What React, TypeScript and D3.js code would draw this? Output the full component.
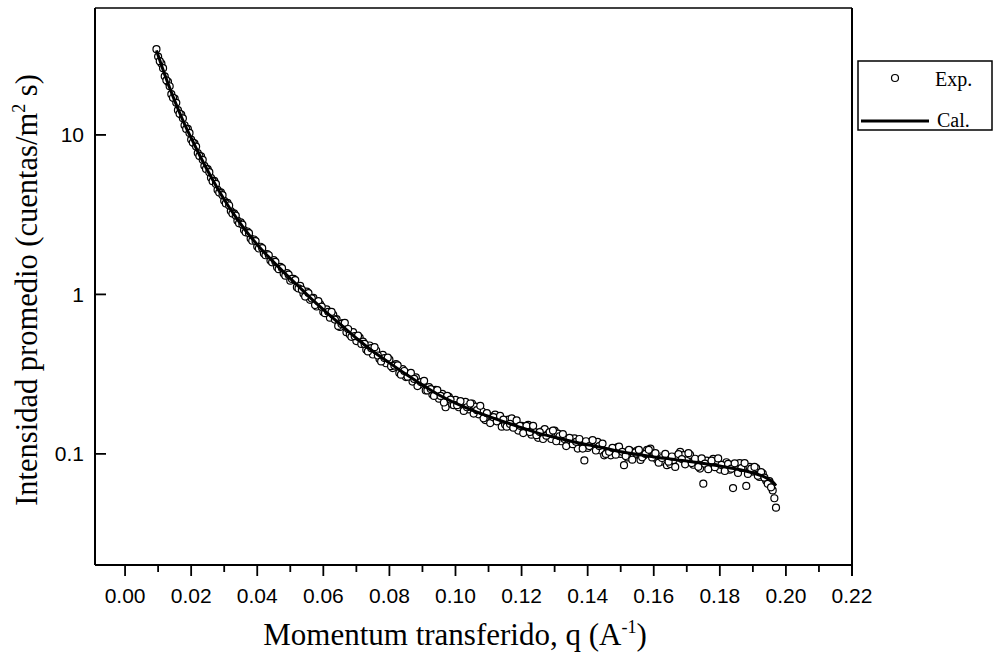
import React from "react";
import * as d3 from "d3";

const expQ = [
  0.0095, 0.010, 0.011, 0.012, 0.013, 0.014, 0.015, 0.016, 0.017, 0.018, 0.019,
  0.020, 0.021, 0.022, 0.023, 0.024, 0.025, 0.026, 0.027, 0.028, 0.029,
  0.030, 0.031, 0.032, 0.033, 0.034, 0.035, 0.036, 0.037, 0.038, 0.039,
  0.040, 0.041, 0.042, 0.043, 0.044, 0.045, 0.046, 0.047, 0.048, 0.049,
  0.050, 0.051, 0.052, 0.053, 0.054, 0.055, 0.056, 0.057, 0.058, 0.059,
  0.060, 0.061, 0.062, 0.063, 0.064, 0.065, 0.066, 0.067, 0.068, 0.069,
  0.070, 0.071, 0.072, 0.073, 0.074, 0.075, 0.076, 0.077, 0.078, 0.079,
  0.080, 0.081, 0.082, 0.083, 0.084, 0.085, 0.086, 0.087, 0.088, 0.089,
  0.090, 0.091, 0.092, 0.093, 0.094, 0.095, 0.096, 0.097, 0.098, 0.099,
  0.100, 0.101, 0.102, 0.103, 0.104, 0.105, 0.106, 0.107, 0.108, 0.109,
  0.110, 0.111, 0.112, 0.113, 0.114, 0.115, 0.116, 0.117, 0.118, 0.119,
  0.120, 0.121, 0.122, 0.123, 0.124, 0.125, 0.126, 0.127, 0.128, 0.129,
  0.130, 0.131, 0.132, 0.133, 0.134, 0.135, 0.136, 0.137, 0.138, 0.139,
  0.140, 0.141, 0.142, 0.143, 0.144, 0.145, 0.146, 0.147, 0.148, 0.149,
  0.150, 0.151, 0.152, 0.153, 0.154, 0.155, 0.156, 0.157, 0.158, 0.159,
  0.160, 0.161, 0.162, 0.163, 0.164, 0.165, 0.166, 0.167, 0.168, 0.169,
  0.170, 0.171, 0.172, 0.173, 0.174, 0.175, 0.176, 0.177, 0.178, 0.179,
  0.180, 0.181, 0.182, 0.183, 0.184, 0.185, 0.186, 0.187, 0.188, 0.189,
  0.190, 0.191, 0.192, 0.193, 0.194, 0.195, 0.196, 0.197,
];

const expI = [
  34.5, 31.0, 28.0, 23.3, 21.5, 18.0, 16.9, 14.3, 13.4, 11.5, 10.9,
  9.35, 8.85, 7.70, 7.35, 6.40, 6.10, 5.38, 5.15, 4.52, 4.36,
  3.86, 3.75, 3.33, 3.22, 2.90, 2.83, 2.53, 2.48, 2.24, 2.21,
  2.00, 1.99, 1.81, 1.79, 1.63, 1.64, 1.48, 1.49, 1.35, 1.36,
  1.22, 1.25, 1.11, 1.13, 1.01, 1.04, 0.925, 0.950, 0.840, 0.870,
  0.775, 0.805, 0.715, 0.745, 0.700, 0.625, 0.660, 0.580, 0.560, 0.580,
  0.510, 0.535, 0.505, 0.450, 0.478, 0.420, 0.445, 0.393, 0.418, 0.370,
  0.390, 0.345, 0.365, 0.322, 0.340, 0.303, 0.318, 0.284, 0.302, 0.271,
  0.282, 0.250, 0.262, 0.236, 0.252, 0.222, 0.238, 0.196, 0.228, 0.204,
  0.218, 0.196, 0.204, 0.212, 0.190, 0.207, 0.198, 0.177, 0.185, 0.163,
  0.174, 0.161, 0.176, 0.164, 0.148, 0.153, 0.164, 0.167, 0.148, 0.140,
  0.150, 0.143, 0.152, 0.132, 0.137, 0.126, 0.138, 0.143, 0.133, 0.124,
  0.140, 0.134, 0.120, 0.124, 0.115, 0.119, 0.125, 0.108, 0.119, 0.091,
  0.109, 0.118, 0.112, 0.119, 0.105, 0.098, 0.103, 0.098, 0.106, 0.110,
  0.100, 0.085, 0.095, 0.104, 0.098, 0.105, 0.0917, 0.0977, 0.106, 0.108,
  0.0995, 0.0922, 0.0963, 0.0893, 0.0849, 0.0864, 0.0914, 0.0964, 0.103, 0.0981,
  0.0911, 0.0987, 0.0855, 0.0912, 0.0809, 0.065, 0.0908, 0.0842, 0.0930, 0.0872,
  0.0797, 0.0842, 0.0886, 0.0795, 0.061, 0.0852, 0.0876, 0.0818, 0.063, 0.0828,
  0.0774, 0.0815, 0.0716, 0.0753, 0.0680, 0.0675, 0.059, 0.046,
];

const expQ2 = [
  0.0105, 0.0115, 0.0125, 0.0135, 0.0145, 0.0155, 0.0165, 0.0175, 0.0185, 0.0195,
  0.0205, 0.0215, 0.0225, 0.0235, 0.0245, 0.0255, 0.0265, 0.0275, 0.0285, 0.0295,
  0.0305, 0.0315, 0.0325, 0.0335, 0.0345, 0.0355, 0.0365, 0.0375, 0.0385, 0.0395,
  0.0405, 0.0415, 0.0425, 0.0435, 0.0445, 0.0455, 0.0465, 0.0475, 0.0485, 0.0495,
  0.0505, 0.0515, 0.0525, 0.0535, 0.0545, 0.0555, 0.0565, 0.0575, 0.0585, 0.0595,
  0.0605, 0.0615, 0.0625, 0.0635, 0.0645, 0.0655, 0.0665, 0.0675, 0.0685, 0.0695,
  0.0705, 0.0715, 0.0725, 0.0735, 0.0745, 0.0755, 0.0765, 0.0775, 0.0785, 0.0795,
  0.0805, 0.0815, 0.0825, 0.0835, 0.0845, 0.0855, 0.0865, 0.0875, 0.0885, 0.0895,
  0.0905, 0.0915, 0.0925, 0.0935, 0.0945, 0.0955, 0.0965, 0.0975, 0.0985, 0.0995,
  0.1005, 0.1015, 0.1025, 0.1035, 0.1045, 0.1055, 0.1065, 0.1075, 0.1085, 0.1095,
  0.1105, 0.1115, 0.1125, 0.1135, 0.1145, 0.1155, 0.1165, 0.1175, 0.1185, 0.1195,
  0.1205, 0.1215, 0.1225, 0.1235, 0.1245, 0.1255, 0.1265, 0.1275, 0.1285, 0.1295,
  0.1305, 0.1315, 0.1325, 0.1335, 0.1345, 0.1355, 0.1365, 0.1375, 0.1385, 0.1395,
  0.1405, 0.1415, 0.1425, 0.1435, 0.1445, 0.1455, 0.1465, 0.1475, 0.1485, 0.1495,
  0.1505, 0.1515, 0.1525, 0.1535, 0.1545, 0.1555, 0.1565, 0.1575, 0.1585, 0.1595,
  0.1605, 0.1615, 0.1625, 0.1635, 0.1645, 0.1655, 0.1665, 0.1675, 0.1685, 0.1695,
  0.1705, 0.1715, 0.1725, 0.1735, 0.1745, 0.1755, 0.1765, 0.1775, 0.1785, 0.1795,
  0.1805, 0.1815, 0.1825, 0.1835, 0.1845, 0.1855, 0.1865, 0.1875, 0.1885, 0.1895,
  0.1905, 0.1915, 0.1925, 0.1935, 0.1945, 0.1955, 0.1965,
];

const expI2 = [
  29.0, 26.2, 22.0, 20.2, 17.1, 15.9, 13.6, 12.7, 10.9, 10.3,
  8.95, 8.45, 7.38, 6.98, 6.12, 5.84, 5.13, 4.93, 4.35, 4.19,
  3.72, 3.61, 3.21, 3.12, 2.79, 2.74, 2.45, 2.42, 2.17, 2.16,
  1.94, 1.95, 1.76, 1.76, 1.59, 1.60, 1.44, 1.46, 1.31, 1.33,
  1.25, 1.23, 1.09, 1.07, 0.969, 1.02, 0.943, 0.858, 0.907, 0.837,
  0.763, 0.778, 0.776, 0.695, 0.634, 0.653, 0.663, 0.607, 0.542, 0.547,
  0.551, 0.489, 0.489, 0.439, 0.460, 0.467, 0.414, 0.380, 0.399, 0.401,
  0.355, 0.358, 0.359, 0.314, 0.331, 0.305, 0.322, 0.295, 0.266, 0.282,
  0.287, 0.250, 0.255, 0.231, 0.251, 0.231, 0.210, 0.231, 0.219, 0.202,
  0.202, 0.214, 0.186, 0.196, 0.207, 0.179, 0.188, 0.200, 0.167, 0.180,
  0.156, 0.170, 0.160, 0.173, 0.164, 0.148, 0.154, 0.146, 0.162, 0.150,
  0.135, 0.150, 0.137, 0.150, 0.131, 0.137, 0.124, 0.130, 0.137, 0.140,
  0.120, 0.129, 0.133, 0.112, 0.126, 0.115, 0.119, 0.124, 0.108, 0.120,
  0.112, 0.122, 0.105, 0.112, 0.116, 0.100, 0.103, 0.109, 0.0988, 0.111,
  0.103, 0.0970, 0.106, 0.0920, 0.102, 0.106, 0.0952, 0.100, 0.106, 0.0950,
  0.101, 0.0881, 0.0942, 0.100, 0.0894, 0.0963, 0.0828, 0.0997, 0.0928, 0.0860,
  0.101, 0.0876, 0.0932, 0.0829, 0.0936, 0.0868, 0.0802, 0.0907, 0.0825, 0.0936,
  0.0853, 0.0781, 0.0865, 0.0808, 0.0873, 0.0760, 0.0815, 0.0876, 0.0749, 0.0809,
  0.0828, 0.0728, 0.0768, 0.0709, 0.0649, 0.0617, 0.0527,
];

const calQ = [
  0.0095, 0.010, 0.011, 0.012, 0.013, 0.014, 0.015, 0.016, 0.018, 0.020,
  0.022, 0.024, 0.026, 0.028, 0.030, 0.033, 0.036, 0.040, 0.044, 0.048,
  0.052, 0.056, 0.060, 0.065, 0.070, 0.075, 0.080, 0.085, 0.090, 0.095,
  0.100, 0.105, 0.110, 0.115, 0.120, 0.125, 0.130, 0.135, 0.140, 0.145,
  0.150, 0.155, 0.160, 0.165, 0.170, 0.175, 0.180, 0.185, 0.190, 0.193,
  0.195, 0.196, 0.197,
];

const calI = [
  33.9, 31.6, 27.4, 23.9, 21.0, 18.5, 16.4, 14.6, 11.7, 9.57,
  7.87, 6.53, 5.47, 4.62, 3.94, 3.16, 2.59, 2.05, 1.67, 1.38,
  1.15, 0.955, 0.804, 0.653, 0.531, 0.440, 0.372, 0.316, 0.270, 0.234,
  0.208, 0.188, 0.172, 0.158, 0.146, 0.135, 0.127, 0.120, 0.114, 0.109,
  0.103, 0.0993, 0.0957, 0.0929, 0.0902, 0.0871, 0.0839, 0.0804, 0.0759, 0.0724,
  0.0689, 0.0667, 0.0631,
];

const xMajorTicks = [0, 0.02, 0.04, 0.06, 0.08, 0.1, 0.12, 0.14, 0.16, 0.18, 0.2, 0.22];
const xMinorTicks = [0.01, 0.03, 0.05, 0.07, 0.09, 0.11, 0.13, 0.15, 0.17, 0.19, 0.21];
const yTicks = [0.1, 1, 10];
const yTickLabels = ["0.1", "1", "10"];
const legendLabels = ["Exp.", "Cal."];

export default function App() {
  const left = 95, right = 852, top = 8, bottom = 565;
  const x = d3.scaleLinear().domain([-0.0091, 0.22]).range([left, right]);
  const y = d3.scaleLog().domain([0.0201, 62.5]).range([bottom, top]);
  const fmt = d3.format(".2f");
  const calPts = calQ.map((q, i) => [q, calI[i]] as [number, number]);
  const expPts = [
    ...expQ.map((q, i) => [q, expI[i]] as [number, number]),
    ...expQ2.map((q, i) => [q, expI2[i]] as [number, number]),
  ];
  const line = d3
    .line<[number, number]>()
    .x((d) => x(d[0]))
    .y((d) => y(d[1]))
    .curve(d3.curveMonotoneX);

  const sans = "'Liberation Sans', Arial, sans-serif";
  const serif = "'Liberation Serif', 'Times New Roman', serif";

  return (
    <svg
      width={995}
      height={662}
      style={{ position: "absolute", left: 0, top: 0, background: "#fff" }}
    >
      <rect x={0} y={0} width={995} height={662} fill="#fff" />
      {/* frame */}
      <line x1={left} y1={top} x2={right} y2={top} stroke="#000" strokeWidth={1.5} />
      <line x1={right} y1={top} x2={right} y2={bottom + 11} stroke="#000" strokeWidth={2} />
      <line x1={left} y1={top} x2={left} y2={bottom} stroke="#000" strokeWidth={2} />
      <line x1={left} y1={bottom} x2={right} y2={bottom} stroke="#000" strokeWidth={2} />

      {/* x ticks */}
      {xMajorTicks.map((t) => (
        <g key={"xm" + t}>
          <line x1={x(t)} x2={x(t)} y1={bottom} y2={bottom + 11} stroke="#000" strokeWidth={1.8} />
          <text
            x={x(t)}
            y={603}
            textAnchor="middle"
            fontFamily={sans}
            fontSize={21}
            fill="#000"
          >
            {fmt(t)}
          </text>
        </g>
      ))}
      {xMinorTicks.map((t) => (
        <line key={"xn" + t} x1={x(t)} x2={x(t)} y1={bottom} y2={bottom + 7} stroke="#000" strokeWidth={1.8} />
      ))}

      {/* y ticks */}
      {yTicks.map((t, i) => (
        <g key={"y" + t}>
          <line x1={left} x2={left + 11} y1={y(t)} y2={y(t)} stroke="#000" strokeWidth={1.8} />
          <text
            x={84}
            y={y(t) + 7.5}
            textAnchor="end"
            fontFamily={sans}
            fontSize={21}
            fill="#000"
          >
            {yTickLabels[i]}
          </text>
        </g>
      ))}

      {/* experimental points */}
      {expPts.map((d, i) => (
        <circle
          key={"e" + i}
          cx={x(d[0])}
          cy={y(d[1])}
          r={3.5}
          fill="#fff"
          stroke="#000"
          strokeWidth={1.2}
        />
      ))}

      {/* calculated curve */}
      <path d={line(calPts) || ""} fill="none" stroke="#000" strokeWidth={3} />

      {/* axis titles */}
      <text
        x={455}
        y={645}
        textAnchor="middle"
        fontFamily={serif}
        fontSize={31}
        fill="#000"
      >
        Momentum transferido, q (A
        <tspan dy={-12} fontSize={18}>-1</tspan>
        <tspan dy={12}>)</tspan>
      </text>
      <text
        transform="translate(37,290) rotate(-90)"
        textAnchor="middle"
        fontFamily={serif}
        fontSize={30.5}
        fill="#000"
      >
        Intensidad promedio (cuentas/m
        <tspan dy={-12} fontSize={18}>2</tspan>
        <tspan dy={12}> s)</tspan>
      </text>

      {/* legend */}
      <rect x={858} y={61} width={134} height={69} fill="#fff" stroke="#000" strokeWidth={1.5} />
      <circle cx={895} cy={78} r={3.5} fill="#fff" stroke="#000" strokeWidth={1.2} />
      <text x={935} y={86} fontFamily={serif} fontSize={20} fill="#000">
        {legendLabels[0]}
      </text>
      <line x1={861} x2={929} y1={121} y2={121} stroke="#000" strokeWidth={3} />
      <text x={937} y={127} fontFamily={serif} fontSize={20} fill="#000">
        {legendLabels[1]}
      </text>
    </svg>
  );
}
